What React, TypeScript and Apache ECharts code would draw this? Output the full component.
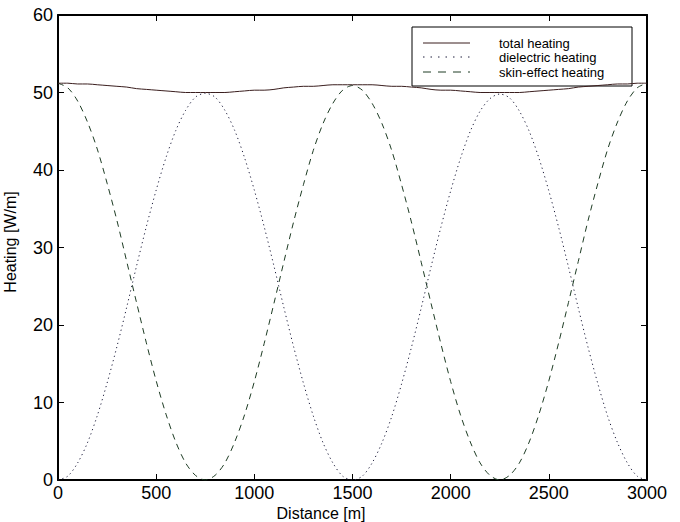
import React, { useEffect, useRef } from "react";
import * as echarts from "echarts";

const distance = [
  0, 50, 100, 150, 200, 250, 300, 350, 400, 450, 500, 550, 600, 650, 700, 750,
  800, 850, 900, 950, 1000, 1050, 1100, 1150, 1200, 1250, 1300, 1350, 1400, 1450, 1500,
  1550, 1600, 1650, 1700, 1750, 1800, 1850, 1900, 1950, 2000, 2050, 2100, 2150, 2200, 2250,
  2300, 2350, 2400, 2450, 2500, 2550, 2600, 2650, 2700, 2750, 2800, 2850, 2900, 2950, 3000,
];

const totalHeating = [
  51.2, 51.2, 51.1, 51.1, 51.0, 50.9, 50.8, 50.7, 50.5, 50.4, 50.3, 50.2, 50.1, 50.0, 50.0, 50.0,
  50.0, 50.0, 50.1, 50.2, 50.3, 50.3, 50.4, 50.6, 50.7, 50.8, 50.8, 50.9, 51.0, 51.0, 51.0,
  51.0, 51.0, 50.9, 50.8, 50.8, 50.7, 50.6, 50.4, 50.3, 50.3, 50.2, 50.1, 50.0, 50.0, 50.0,
  50.0, 50.0, 50.1, 50.2, 50.3, 50.4, 50.5, 50.7, 50.8, 50.9, 51.0, 51.1, 51.1, 51.2, 51.2,
];

const dielectricHeating = [
  0, 0.5, 2.2, 4.8, 8.3, 12.5, 17.2, 22.3, 27.6, 32.7, 37.4, 41.6, 45.1, 47.7, 49.4, 49.9,
  49.4, 47.7, 45.1, 41.6, 37.4, 32.7, 27.6, 22.3, 17.2, 12.5, 8.3, 4.8, 2.2, 0.5, 0,
  0.5, 2.2, 4.8, 8.2, 12.4, 17.1, 22.2, 27.5, 32.6, 37.3, 41.5, 45.0, 47.6, 49.2, 49.8,
  49.3, 47.6, 45.0, 41.5, 37.3, 32.6, 27.5, 22.2, 17.1, 12.4, 8.2, 4.8, 2.2, 0.5, 0,
];

const skinEffectHeating = [
  51.2, 50.6, 48.9, 46.2, 42.7, 38.3, 33.5, 28.2, 22.9, 17.7, 12.8, 8.5, 4.9, 2.2, 0.6, 0,
  0.6, 2.2, 4.9, 8.4, 12.7, 17.6, 22.8, 28.1, 33.3, 38.1, 42.5, 46.0, 48.6, 50.3, 50.9,
  50.3, 48.6, 46.0, 42.5, 38.1, 33.3, 28.1, 22.8, 17.6, 12.7, 8.4, 4.9, 2.2, 0.6, 0,
  0.6, 2.2, 4.9, 8.5, 12.8, 17.7, 22.9, 28.2, 33.5, 38.3, 42.7, 46.2, 48.9, 50.6, 51.2,
];

const seriesNames = ["total heating", "dielectric heating", "skin-effect heating"];
const seriesColors = ["#3a1e1e", "#1e1e3c", "#1e3c24"];
const xTitle = "Distance [m]";
const yTitle = "Heating [W/m]";

const FONT = "Liberation Sans";

export default function App() {
  const ref = useRef<HTMLDivElement>(null);

  useEffect(() => {
    if (!ref.current) return;
    const chart = echarts.init(ref.current, null, { renderer: "svg" });

    const pair = (ys: number[]) => distance.map((d, i) => [d, ys[i]]);
    const dashes: any[] = ["solid", [1.2, 3.3], [6, 5]];
    const values = [totalHeating, dielectricHeating, skinEffectHeating];

    const axisLine = () => ({ show: true, onZero: false, lineStyle: { color: "#000", width: 2 } });
    const tick = () => ({ show: true, inside: true, length: 6, lineStyle: { color: "#000", width: 1 } });
    const fmt = (v: number) => String(v);

    const legendRows = [43, 57, 72];
    const legendChildren: any[] = [
      {
        type: "rect",
        shape: { x: 412, y: 27, width: 220, height: 59 },
        style: { fill: "#fff", stroke: "#000", lineWidth: 1 },
      },
    ];
    seriesNames.forEach((name, i) => {
      legendChildren.push({
        type: "line",
        shape: { x1: 423, y1: legendRows[i], x2: 470, y2: legendRows[i] },
        style: {
          stroke: seriesColors[i],
          lineWidth: 1,
          lineDash: i === 0 ? null : i === 1 ? [1.5, 6] : [8, 7],
        },
      });
      legendChildren.push({
        type: "text",
        x: 499,
        y: legendRows[i],
        style: {
          text: name,
          fill: "#000",
          font: `13px "${FONT}"`,
          verticalAlign: "middle",
          align: "left",
        },
      });
    });

    chart.setOption({
      animation: false,
      backgroundColor: "#fff",
      grid: { left: 58, right: 33, top: 15, bottom: 42, containLabel: false },
      xAxis: [
        {
          type: "value",
          min: 0,
          max: 3000,
          interval: 500,
          position: "bottom",
          axisLine: axisLine(),
          axisTick: tick(),
          axisLabel: { fontFamily: FONT, fontSize: 18, color: "#000", margin: 4, formatter: fmt },
          splitLine: { show: false },
        },
        {
          type: "value",
          min: 0,
          max: 3000,
          interval: 500,
          position: "top",
          axisLine: axisLine(),
          axisTick: tick(),
          axisLabel: { show: false },
          splitLine: { show: false },
        },
      ],
      yAxis: [
        {
          type: "value",
          min: 0,
          max: 60,
          interval: 10,
          position: "left",
          axisLine: axisLine(),
          axisTick: tick(),
          axisLabel: { fontFamily: FONT, fontSize: 18, color: "#000", margin: 5, formatter: fmt },
          splitLine: { show: false },
        },
        {
          type: "value",
          min: 0,
          max: 60,
          interval: 10,
          position: "right",
          axisLine: axisLine(),
          axisTick: tick(),
          axisLabel: { show: false },
          splitLine: { show: false },
        },
      ],
      series: seriesNames.map((name, i) => ({
        name,
        type: "line",
        data: pair(values[i]),
        showSymbol: false,
        symbol: "none",
        smooth: 0.3,
        lineStyle: { color: seriesColors[i], width: 1, type: dashes[i] },
        z: 3 - i,
      })),
      graphic: [
        {
          type: "text",
          x: 321,
          y: 513,
          style: {
            text: xTitle,
            fill: "#000",
            font: `16px "${FONT}"`,
            align: "center",
            verticalAlign: "middle",
          },
        },
        {
          type: "text",
          x: 10,
          y: 242,
          rotation: Math.PI / 2,
          style: {
            text: yTitle,
            fill: "#000",
            font: `16px "${FONT}"`,
            align: "center",
            verticalAlign: "middle",
          },
        },
        { type: "group", children: legendChildren, z: 100 },
      ],
    });

    return () => chart.dispose();
  }, []);

  return (
    <div
      ref={ref}
      style={{ position: "fixed", left: 0, top: 0, width: 680, height: 522, background: "#fff" }}
    />
  );
}
